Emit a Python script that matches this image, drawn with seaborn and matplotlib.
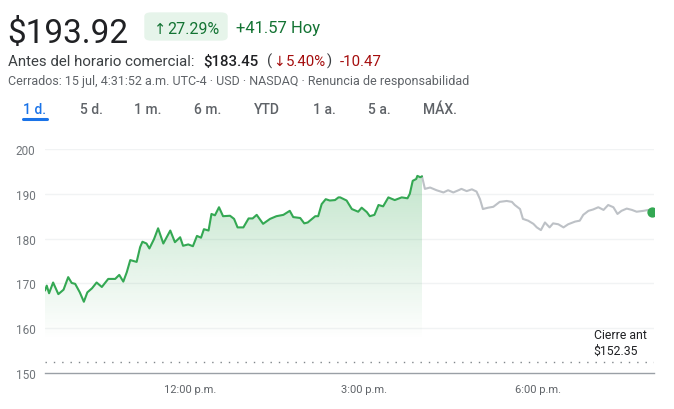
import numpy as np
import pandas as pd
import matplotlib
matplotlib.use("Agg")
import matplotlib.pyplot as plt
from matplotlib.patches import FancyBboxPatch
import seaborn as sns

# ---- data ----
reg_hours = [9.50, 9.53, 9.57, 9.64, 9.73, 9.82, 9.90, 9.96, 10.02, 10.10, 10.17, 10.23,
             10.31, 10.39, 10.48, 10.59, 10.71, 10.78, 10.85, 10.91, 10.97, 11.08, 11.14,
             11.18, 11.25, 11.30, 11.38, 11.45, 11.54, 11.66, 11.74, 11.83, 11.88, 11.97,
             12.05, 12.12, 12.19, 12.24, 12.32, 12.37, 12.43, 12.50, 12.57, 12.69, 12.76,
             12.82, 12.92, 13.01, 13.08, 13.15, 13.26, 13.38, 13.49, 13.61, 13.72, 13.78,
             13.90, 13.97, 14.03, 14.16, 14.21, 14.27, 14.34, 14.41, 14.50, 14.56, 14.59,
             14.70, 14.79, 14.90, 14.96, 15.05, 15.10, 15.18, 15.25, 15.33, 15.42, 15.53,
             15.65, 15.75, 15.79, 15.84, 15.90, 15.92, 15.97, 16.00]
reg_prices = [168.4, 169.5, 167.8, 170.2, 167.6, 168.6, 171.4, 170.1, 169.9, 168.0, 165.9, 168.0,
              168.9, 170.2, 169.2, 171.0, 171.0, 171.9, 170.4, 172.5, 175.2, 174.8, 178.1,
              179.3, 178.9, 177.8, 179.9, 182.3, 178.9, 181.8, 179.2, 180.3, 178.4, 178.7,
              178.3, 180.6, 180.2, 182.1, 181.8, 185.5, 185.2, 187.0, 185.0, 185.1, 184.4,
              182.5, 182.5, 184.5, 184.5, 185.3, 183.3, 184.4, 185.0, 185.3, 186.2, 184.8,
              184.6, 183.4, 183.6, 185.0, 185.0, 187.7, 188.8, 188.5, 188.6, 189.2, 189.2,
              188.5, 186.6, 186.0, 186.9, 185.9, 185.0, 185.3, 187.5, 187.2, 189.2, 188.6,
              189.2, 189.0, 190.0, 192.9, 193.3, 194.0, 193.7, 193.9]
ah_hours = [16.00, 16.05, 16.14, 16.25, 16.37, 16.45, 16.54, 16.63, 16.68, 16.77, 16.86,
            16.94, 17.00, 17.05, 17.14, 17.23, 17.34, 17.46, 17.55, 17.60, 17.69, 17.74,
            17.83, 17.92, 17.98, 18.05, 18.12, 18.20, 18.26, 18.35, 18.44, 18.52, 18.64,
            18.72, 18.78, 18.87, 18.95, 19.04, 19.13, 19.21, 19.30, 19.37, 19.44, 19.53,
            19.62, 19.70, 19.82, 19.90, 19.96]
ah_prices = [193.9, 191.1, 191.4, 190.8, 190.3, 190.8, 190.3, 190.8, 191.1, 190.6, 191.0,
             190.5, 188.8, 186.6, 186.9, 187.1, 188.2, 188.4, 188.2, 187.5, 186.6, 184.4,
             184.0, 183.3, 182.5, 181.9, 183.6, 182.5, 183.4, 183.2, 182.5, 183.2, 183.8,
             184.0, 185.3, 186.2, 186.5, 187.0, 186.4, 187.5, 187.0, 185.5, 186.2, 186.7,
             186.4, 186.0, 186.2, 186.4, 186.0]
prev_close = 152.35
y_ticks = [150, 160, 170, 180, 190, 200]
x_ticks = [12, 15, 18]
x_tick_labels = ["12:00 p.m.", "3:00 p.m.", "6:00 p.m."]
tabs = ["1 d.", "5 d.", "1 m.", "6 m.", "YTD", "1 a.", "5 a.", "MÁX."]
tab_centers = [34.7, 91, 148, 207.5, 267, 324, 379, 440]

reg = pd.DataFrame({"hora": reg_hours, "precio": reg_prices})
ah = pd.DataFrame({"hora": ah_hours, "precio": ah_prices})

# ---- style ----
sns.set_theme(style="white")
plt.rcParams["font.family"] = ["Roboto", "DejaVu Sans"]

W, H = 674, 410
fig = plt.figure(figsize=(W / 100, H / 100), dpi=100)
fig.patch.set_facecolor("white")
renderer = fig.canvas.get_renderer()

def fx(x):
    return x / W

def fy(y):
    return 1 - y / H

def chain(x, y, pieces):
    """Place text pieces one after another; x,y in pixels (y from top)."""
    for txt, kw, gap in pieces:
        t = fig.text(fx(x), fy(y), txt, ha="left", va="baseline", **kw)
        bb = t.get_window_extent(renderer=renderer)
        x = x + bb.width + gap

GREEN = "#34a853"
GRAY_LINE = "#bdc1c6"
TXT_GRAY = "#5f6368"

# axes: x 45..654 px, y 150(value 200)..374(value 150)
ax = fig.add_axes([fx(45), fy(374), (654 - 45) / W, (374 - 150) / H])
ax.set_xlim(9.5, 20.0)
ax.set_ylim(150, 200)

for v in y_ticks[1:]:
    ax.axhline(v, color="#f1f3f4", lw=1.0, zorder=0)

# gradient fill under regular-session line
poly = ax.fill_between(reg["hora"], reg["precio"], 150, color="none", lw=0)
rgba = np.zeros((256, 1, 4))
rgba[..., 0] = 0x34 / 255
rgba[..., 1] = 0xa8 / 255
rgba[..., 2] = 0x53 / 255
yy = np.linspace(150, 200, 256)
alpha = np.clip((yy - 157.5) / (195 - 157.5), 0, 1) * 0.30
rgba[..., 3] = alpha.reshape(-1, 1)
im = ax.imshow(rgba, extent=[9.5, 16.0, 150, 200], origin="lower", aspect="auto", zorder=1)
im.set_clip_path(poly.get_paths()[0], transform=ax.transData)
ax.set_xlim(9.5, 20.0)
ax.set_ylim(150, 200)

sns.lineplot(data=ah, x="hora", y="precio", ax=ax, color=GRAY_LINE, lw=1.5, zorder=3)
sns.lineplot(data=reg, x="hora", y="precio", ax=ax, color=GREEN, lw=1.5, zorder=4)
ax.scatter([ah_hours[-1]], [ah_prices[-1]], s=55, color=GREEN, zorder=5, lw=0)

ax.axhline(prev_close, color="#80868b", lw=1.0, ls=(0, (1, 5)), zorder=2)
ax.text(16.0 + (593 - 421.5) / 58, 153.7, "Cierre ant\n$152.35", fontsize=8.8,
        color="#202124", ha="left", va="bottom", linespacing=1.2)

for s in ["top", "right", "left"]:
    ax.spines[s].set_visible(False)
ax.spines["bottom"].set_color("#9aa0a6")
ax.spines["bottom"].set_linewidth(1.0)

ax.set_yticks(y_ticks)
ax.set_yticklabels([str(v) for v in y_ticks], fontsize=8.5, color="#70757a")
ax.tick_params(axis="y", length=0, pad=7)
ax.set_xticks(x_ticks)
ax.set_xticklabels(x_tick_labels, fontsize=8, color=TXT_GRAY)
ax.tick_params(axis="x", length=4, width=1.5, color="#5f6368", pad=6, direction="inout")
ax.set_xlabel("")
ax.set_ylabel("")
ax.grid(False)

# ---- header ----
fig.text(fx(7), fy(43), "$193.92", fontsize=24, color="#202124", ha="left", va="baseline")
pill = FancyBboxPatch((fx(147), fy(40)), (225 - 147) / W, (40 - 15) / H,
                      boxstyle="round,pad=0.004,rounding_size=0.01",
                      transform=fig.transFigure, facecolor="#e6f4ea", edgecolor="none")
fig.patches.append(pill)
chain(154, 33.5, [("\u2191", dict(fontsize=10.5, color="#137333", family=["DejaVu Sans"]), 1),
                  ("27.29%", dict(fontsize=11.5, color="#137333"), 0)])
fig.text(fx(236), fy(33.5), "+41.57 Hoy", fontsize=12, color="#137333",
         ha="left", va="baseline")

base = dict(fontsize=10.8)
chain(8, 66, [
    ("Antes del horario comercial:", dict(base, color="#3c4043"), 9),
    ("$183.45", dict(base, color="#202124", fontweight="medium"), 8),
    ("(", dict(base, color="#3c4043"), 1),
    ("\u2193", dict(fontsize=10, color="#a50e0e", family=["DejaVu Sans"]), 1),
    ("5.40%", dict(base, color="#a50e0e"), 1),
    (")", dict(base, color="#3c4043"), 8),
    ("-10.47", dict(base, color="#a50e0e"), 0),
])

fig.text(fx(8), fy(85.5),
         "Cerrados: 15 jul, 4:31:52 a.m. UTC-4 · USD · NASDAQ · Renuncia de responsabilidad",
         fontsize=9.0, color=TXT_GRAY, ha="left", va="baseline")

for i, (t, cx) in enumerate(zip(tabs, tab_centers)):
    fig.text(fx(cx), fy(114), t, fontsize=10, color="#1a73e8" if i == 0 else TXT_GRAY,
             ha="center", va="baseline", fontweight="medium")
fig.add_artist(plt.Line2D([fx(23), fx(47)], [fy(119.5), fy(119.5)], color="#1a73e8",
                          lw=2.2, transform=fig.transFigure, solid_capstyle="round"))

fig.savefig("out.png", dpi=100, facecolor="white")
